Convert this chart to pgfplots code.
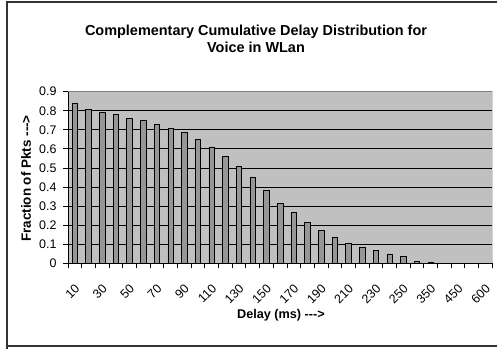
\documentclass[border=0pt]{standalone}
\usepackage{fontspec}
\setmainfont{Liberation Sans}
\usepackage{pgfplots}
\pgfplotsset{compat=1.18}

\definecolor{plotbg}{RGB}{192,192,192}
\definecolor{barfill}{RGB}{150,150,150}
\definecolor{framegray}{RGB}{50,50,50}
\definecolor{edgegray}{RGB}{128,128,128}

\begin{document}
\begin{tikzpicture}[x=1bp,y=1bp]
\useasboundingbox (0,0) rectangle (497,348);
% chart frame
\draw[framegray, line width=2bp] (7,-5) -- (7,346) -- (510,346);
\draw[framegray, line width=2bp] (6,2) -- (510,2);

% title and axis labels
\node[align=center, font=\bfseries\fontsize{14.5}{16.5}\selectfont] at (256,309)
  {Complementary Cumulative Delay Distribution for\\Voice in WLan};
\node[rotate=90, font=\bfseries\fontsize{13.5}{15}\selectfont] at (26,169.5) {Fraction of Pkts -{}-{}->};
\node[font=\bfseries\fontsize{12.7}{14}\selectfont] at (281,33) {Delay (ms) -{}-{}->};

\begin{axis}[
  at={(68bp,84.7bp)}, anchor=south west,
  width=424.3bp, height=171.6bp, scale only axis,
  xmin=-0.5, xmax=30.5, ymin=0, ymax=0.9,
  axis background/.style={fill=plotbg},
  axis x line*=bottom, axis y line*=left,
  axis line style={black, line width=0.9bp, -},
  ymajorgrids, grid style={black, line width=0.9bp},
  ytick={0,0.1,...,0.9},
  yticklabels={0,0.1,0.2,0.3,0.4,0.5,0.6,0.7,0.8,0.9},
  xtick={0,2,...,30},
  xticklabels={10,30,50,70,90,110,130,150,170,190,210,230,250,350,450,600},
  minor xtick={-0.5,0.5,...,30.5},
  major x tick style={draw=none},
  tick align=outside,
  major tick length=5bp, minor tick length=5bp,
  tick style={black, line width=0.9bp},
  tick label style={font=\fontsize{12.5}{13}\selectfont},
  xticklabel style={xshift=5bp, yshift=-16bp, rotate=45, anchor=east},
  yticklabel style={xshift=-3bp},
  ybar, bar width=5.5bp,
]
\addplot[fill=barfill, draw=black, line width=0.8bp] coordinates {
  (0,0.839) (1,0.807) (2,0.790) (3,0.779) (4,0.762) (5,0.751)
  (6,0.730) (7,0.708) (8,0.687) (9,0.650) (10,0.610) (11,0.561)
  (12,0.509) (13,0.451) (14,0.384) (15,0.315) (16,0.265) (17,0.213)
  (18,0.171) (19,0.136) (20,0.105) (21,0.082) (22,0.066) (23,0.049)
  (24,0.034) (25,0.012) (26,0.007)
};
% grey top and right edges of the plot area
\draw[edgegray, line width=1.2bp] (rel axis cs:0,1) -- (rel axis cs:1,1) -- (rel axis cs:1,0);
\end{axis}
\end{tikzpicture}
\end{document}
